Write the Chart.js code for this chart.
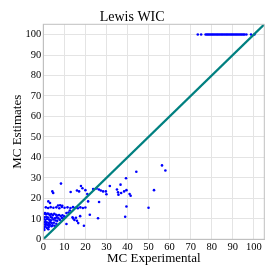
<!DOCTYPE html>
<html><head><meta charset="utf-8">
<script src="https://cdn.jsdelivr.net/npm/chart.js@4"></script>
<style>html,body{margin:0;padding:0;background:#fff}#w{width:277px;height:277px}</style>
</head><body><div id="w"><canvas id="c" width="277" height="277"></canvas></div>
<script>
const chartTitle = "Lewis WIC";
const xTitle = "MC Experimental";
const yTitle = "MC Estimates";
const tickValues = [0,10,20,30,40,50,60,70,80,90,100];
const axisMin = 0, axisMax = 105;
const diagonal = [0, 105];
const expX = [
 56.4,58,44.2,39.3,36.7,31.6,8.4,4.3,4.7,13,17.9,18.6,16,17,20,23.7,25.3,26.4,27.3,28.4,29.7,30,35,35.5,35.7,37,38.4,39.5,41,41.5,52.6,50,39.5,38.9,26.5,21.3,20.9,22.1,26,19.3,16,16.6,14.2,13.9,11,7.9,2.4,0.5,3,
 1.2,2.3,3.5,4.8,6.2,7.6,8.8,10.1,11.5,12.9,14.1,15.2,16.4,17.6,18.8,20,
 7,8,9,2.4,3.2,12.6,12,11,
 0.4,0.8,1.2,1.9,2.5,3.1,3.8,4.5,5.2,6,6.8,7.5,8.3,9.1,10,0.6,1.5,2.2,3.5,4.2,5.5,6.3,7.2,8.8,9.6,0.3,1,1.8,2.8,3.6,4.8,5.8,6.6,0.2,0.9,1.6,2.4,3.3,4,5,6.2,0.5,1.3,2.1,3,4.4,0.2,1,1.7,2.6,15.5,14.8,17.5,0.3,1.1,3.9,5.4
];
const estY = [
 36.1,33.6,33,29.8,26.7,26,27.2,23.4,22.6,23.1,26,24.9,23.8,23.4,24,24.6,24.8,24.3,23.8,23.4,23.4,22,24.3,23,21.8,22.6,23.4,24,22.1,21.3,24,15.4,16,11,18.2,18.5,22.1,12,10.3,6.6,9,7.9,10.2,10.8,7.5,9.5,4.9,4.6,7,
 15.6,15.3,15.7,15.4,15.6,15.2,15.8,15.4,15.6,15.3,15.7,15.4,15.2,15.6,15.3,15.5,
 16.5,16.6,16.4,18.5,17.7,14.1,13.1,12.8,
 12.5,12.8,12.2,12.6,12.4,11.9,12.3,11.8,12.5,12,11.6,11.9,11.4,11.7,11.2,10.8,11,10.6,10.9,10.5,10.3,10.7,10.2,10.4,10.1,9.8,9.5,9.9,9.6,9.3,9.7,9.2,9,8.2,8.6,8.3,8,8.5,7.9,8.1,7.6,7.2,7.5,6.9,7.3,6.8,5.8,6.2,5.5,6,10.5,9.4,11.3,5,7.1,6.4,6.6
];
const topX = [73.4,75,77.1,77.7,78.3,78.9,79.5,80.1,80.7,81.3,81.9,82.5,83.1,83.7,84.3,84.9,85.5,86.1,86.7,87.3,87.9,88.5,89.1,89.7,90.3,90.9,91.5,92.1,92.7,93.3,93.9,94.5,95.1,95.6,96.5,98.7,100.3];
const topY = 100;

const points = expX.map((x,i)=>({x, y: estY[i]}))
  .concat(topX.map(x=>({x, y: topY})));
const diagPts = diagonal.map(v=>({x:v, y:v}));

const serif = "'Liberation Serif','DejaVu Serif',serif";
const setTicks = s => { s.ticks = tickValues.map(v=>({value:v})); };

new Chart(document.getElementById('c'), {
  type: 'scatter',
  data: { datasets: [
    { type:'line', data: diagPts, borderColor:'#008080', borderWidth:2.2, pointRadius:0, order:0 },
    { data: points, backgroundColor:'#0000ff', borderColor:'#0000ff', pointRadius:1.3, borderWidth:0, order:1 }
  ]},
  options: {
    responsive:false, animation:false, devicePixelRatio:1,
    layout:{ padding:{ left:0, right:12.7, top:0, bottom:0 } },
    plugins:{
      legend:{display:false}, tooltip:{enabled:false},
      title:{ display:true, text:chartTitle, color:'#000',
        font:{family:serif, size:14, weight:'normal', lineHeight:1},
        padding:{top:10, bottom:0.3} }
    },
    scales:{
      x:{ type:'linear', min:axisMin, max:axisMax,
        afterBuildTicks:setTicks,
        afterFit: s => { s.height = 37.7; },
        grid:{ color:'#e4e4e4', drawTicks:false, lineWidth:1 },
        border:{ display:true, color:'#c0c0c0' },
        ticks:{ color:'#000', padding:2, font:{family:serif, size:10.5}, maxRotation:0, autoSkip:false },
        title:{ display:true, text:xTitle, color:'#000', font:{family:serif, size:13, lineHeight:1.2}, padding:{top:0,bottom:11} }
      },
      y:{ type:'linear', min:axisMin, max:axisMax,
        afterBuildTicks:setTicks,
        afterFit: s => { s.width = 43.3; },
        grid:{ color:'#e4e4e4', drawTicks:false, lineWidth:1 },
        border:{ display:true, color:'#c0c0c0' },
        ticks:{ color:'#000', padding:2, font:{family:serif, size:10.5}, autoSkip:false },
        title:{ display:true, text:yTitle, color:'#000', font:{family:serif, size:13, lineHeight:1.2}, padding:{top:10,bottom:0} }
      }
    }
  },
  plugins:[{
    id:'frame',
    afterDraw(chart){
      const {ctx, chartArea:a} = chart;
      ctx.save(); ctx.strokeStyle='#c0c0c0'; ctx.lineWidth=1;
      ctx.strokeRect(a.left, a.top, a.right-a.left, a.bottom-a.top);
      ctx.restore();
    }
  }]
});
</script></body></html>
